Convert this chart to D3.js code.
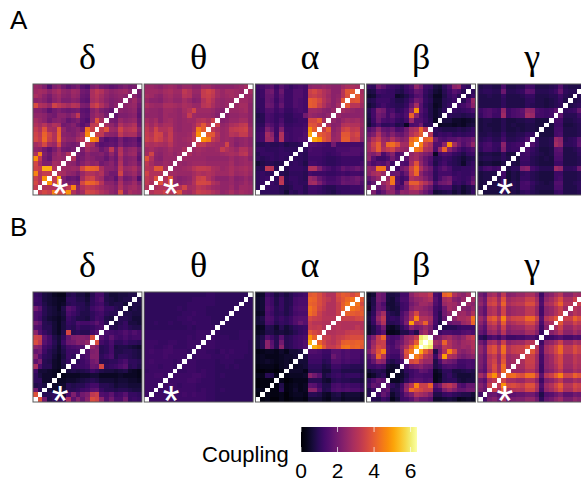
<!DOCTYPE html>
<html lang="en">
<head>
<meta charset="UTF-8">
<title>Coupling</title>
<style>
  html, body { margin: 0; padding: 0; background: #fff; overflow: hidden; }
  text { font-family: "Liberation Sans", Arial, sans-serif; fill: #000; }
  .greek { font-family: "Liberation Serif", "Times New Roman", serif; }
</style>
</head>
<body>
<div id="chart"></div>
<script src="https://d3js.org/d3.v7.min.js"></script>
<script>
var bands = ["δ", "θ", "α", "β", "γ"];
var groups = ["A", "B"];
var legendTicks = [0, 2, 4, 6];
var starred = { A: ["δ", "θ", "γ"], B: ["δ", "θ", "γ"] };

// coupling x 10, upper-left triangle read row by row from the top, diagonal left out
var aDelta = [
  [26,25,22,15,22,24,20,17,19,21,16,14,22,24,20,19,17,18,20,22,20,21],
  [27,28,27,24,27,29,25,24,27,26,20,19,29,32,30,26,24,25,26,27,24],
  [29,27,24,21,25,27,24,23,26,25,19,18,29,31,28,25,23,24,25,24],
  [24,25,23,20,24,26,22,22,24,23,18,17,28,30,27,24,22,23,24],
  [37,30,29,26,35,32,30,28,31,30,22,21,32,35,30,26,22,24],
  [23,23,21,17,20,22,20,19,20,21,17,16,23,26,22,20,18],
  [25,25,24,21,20,24,24,22,25,32,18,17,24,27,25,21],
  [28,26,24,20,23,24,22,18,20,22,17,15,25,38,28],
  [30,28,31,27,30,29,20,21,23,19,16,19,32,33],
  [33,30,38,29,28,40,25,21,22,24,20,44,34],
  [35,32,41,35,30,41,24,23,22,25,28,47],
  [36,33,42,34,30,42,26,24,24,28,31],
  [28,30,36,28,26,36,23,21,20,22],
  [25,24,20,17,21,26,20,19,21],
  [30,46,22,19,24,27,24,30],
  [48,32,21,18,25,26,25],
  [36,28,22,22,28,27],
  [35,33,52,52,30],
  [46,30,33,33],
  [34,30,48],
  [36,30],
  [33]
];
var aTheta = [
  [26,26,25,24,26,27,26,24,26,26,24,24,27,27,25,24,24,24,24,25,26,28],
  [27,27,27,26,28,29,27,27,32,30,26,26,33,35,33,28,26,28,28,27,26],
  [28,27,25,24,27,28,26,26,31,30,25,25,33,34,32,28,26,27,28,27],
  [26,24,24,23,26,27,25,25,28,26,23,24,30,33,30,26,25,26,26],
  [29,27,26,26,29,29,28,27,29,28,26,26,31,32,29,26,25,26],
  [26,25,25,24,27,27,26,25,28,30,35,27,27,27,26,24,23],
  [25,25,25,24,27,26,26,25,27,33,27,26,26,26,25,23],
  [28,26,28,24,27,28,26,25,26,27,27,30,31,29,34],
  [30,27,30,27,29,29,26,25,26,26,28,33,39,32],
  [32,29,35,30,30,32,26,25,26,26,29,45,40],
  [33,31,36,35,29,33,27,26,26,27,32,48],
  [34,32,36,34,30,33,27,26,27,28,32],
  [30,29,30,29,28,31,27,26,26,27],
  [27,28,26,25,26,28,26,26,29],
  [28,35,25,24,26,27,25,27],
  [38,30,24,23,26,26,26],
  [32,28,25,25,27,26],
  [31,30,39,39,28],
  [35,30,30,30],
  [32,30,38],
  [32,29],
  [30]
];
var aAlpha = [
  [12,13,15,17,12,16,13,11,13,14,13,24,25,25,26,25,24,24,27,29,29,28],
  [11,12,19,20,13,19,12,12,15,15,13,34,36,33,30,28,24,24,31,39,40],
  [11,12,18,18,13,17,12,12,15,15,13,33,34,32,30,27,24,25,31,38],
  [11,11,18,17,12,16,12,12,15,14,13,40,39,36,31,28,24,26,39],
  [11,11,19,18,13,18,12,12,15,14,13,40,39,34,30,26,24,28],
  [10,11,15,15,12,14,11,11,13,14,13,27,27,26,24,23,26],
  [8,9,14,13,11,12,10,10,12,12,20,26,25,24,23,25],
  [9,9,14,13,11,14,10,10,11,12,12,36,36,40,28],
  [10,10,17,15,12,16,11,11,12,12,13,39,38,34],
  [11,12,22,18,12,22,12,12,13,13,14,48,40],
  [12,13,28,24,12,30,13,12,13,13,15,51],
  [12,13,27,26,13,30,13,12,13,14,15],
  [9,9,10,9,9,10,8,9,9,10],
  [11,11,10,10,10,11,10,10,10],
  [9,11,11,11,10,11,11,10],
  [10,9,10,11,10,11,10],
  [6,8,9,9,8,9],
  [9,9,32,31,9],
  [10,11,10,10],
  [10,11,12],
  [10,11],
  [10]
];
var aBeta = [
  [11,10,20,17,13,12,11,9,12,15,25,20,12,11,7,6,10,14,24,26,12,10],
  [7,8,13,12,11,11,9,8,11,13,18,17,11,9,6,5,9,12,16,14,9],
  [5,6,10,11,11,11,5,6,8,11,15,16,10,8,4,4,8,11,13,9],
  [8,9,12,12,12,10,8,8,10,14,20,18,11,9,5,5,9,10,12],
  [6,8,11,13,11,10,9,9,11,18,28,16,10,8,4,5,9,11],
  [9,13,22,20,13,14,10,11,14,24,48,16,12,8,5,7,10],
  [8,13,20,18,13,17,13,12,15,41,24,14,11,8,5,7],
  [7,12,19,14,13,14,11,10,13,26,15,15,12,9,4],
  [6,10,14,10,10,11,8,9,4,14,15,20,10,10],
  [15,18,25,18,17,19,14,15,20,28,30,42,31],
  [19,22,30,22,19,23,19,18,22,30,34,40],
  [23,30,34,26,24,30,25,23,25,42,46],
  [27,34,40,28,42,43,38,28,28,45],
  [27,32,40,30,33,35,28,26,25],
  [24,22,26,14,19,23,14,17],
  [25,16,12,12,14,20,15],
  [18,14,16,15,19,12],
  [25,24,44,44,18],
  [24,28,30,26],
  [18,22,26],
  [14,18],
  [22]
];
var aGamma = [
  [8,9,9,8,8,14,8,8,9,9,13,12,8,8,8,9,10,15,9,8,8,8],
  [9,10,10,9,9,19,9,9,10,11,17,16,9,9,9,10,12,18,10,9,9],
  [8,8,9,8,8,11,8,8,8,9,11,11,8,8,8,9,9,12,9,8],
  [8,8,8,8,8,10,8,8,8,8,10,10,8,8,7,8,9,11,8],
  [8,8,8,8,8,10,8,8,8,8,10,9,8,8,7,8,9,10],
  [12,14,15,13,12,25,12,14,15,17,25,24,14,13,12,13,17],
  [11,14,15,12,12,27,12,14,15,16,28,26,13,13,12,13],
  [7,8,8,7,7,9,7,7,8,8,9,9,7,7,7],
  [7,8,7,7,7,9,7,8,7,7,8,8,7,7],
  [7,8,8,7,7,9,7,7,8,7,8,8,7],
  [8,8,9,8,8,11,8,8,9,9,11,11],
  [9,10,11,9,9,13,9,9,10,11,15],
  [11,13,14,11,11,24,11,12,13,14],
  [10,13,13,11,10,22,11,12,12],
  [7,8,8,7,7,10,7,7],
  [8,9,9,8,8,10,8],
  [6,7,7,6,6,8],
  [10,13,14,12,13],
  [7,8,8,8],
  [7,8,8],
  [7,8],
  [7]
];
var bDelta = [
  [11,10,7,6,4,3,3,8,9,7,7,5,9,13,13,8,6,6,7,7,8,8],
  [12,11,7,6,5,4,4,10,10,8,8,6,10,13,15,8,7,6,7,8,8],
  [11,11,8,6,5,4,5,9,10,9,9,7,10,12,13,9,7,8,8,6],
  [20,16,9,7,6,4,8,16,14,10,9,8,12,14,15,11,11,9,8],
  [14,13,9,7,6,5,7,14,12,10,8,8,10,12,13,10,9,9],
  [14,12,8,6,5,4,6,12,10,8,8,7,10,13,12,8,7],
  [20,17,9,8,6,4,7,11,10,14,13,13,14,17,13,9],
  [15,14,9,9,6,4,7,10,9,12,10,10,11,13,14],
  [24,15,11,9,6,4,8,36,9,10,9,9,13,16],
  [35,34,17,13,8,6,10,18,22,23,23,22,37],
  [37,32,16,13,9,6,12,19,20,23,22,25],
  [24,22,13,11,8,5,9,13,14,15,15],
  [18,20,12,9,7,5,8,12,12,13],
  [23,15,10,9,6,4,7,12,10],
  [17,22,9,8,5,4,8,11],
  [29,14,9,9,5,4,7],
  [12,6,6,5,4,3],
  [10,7,5,5,4],
  [10,10,5,5],
  [8,9,7],
  [20,9],
  [38]
];
var bTheta = [
  [10,10,10,10,10,10,10,10,10,10,10,10,10,11,11,10,10,10,10,10,10,10],
  [10,10,10,10,10,10,10,10,10,10,11,11,11,11,11,10,10,10,10,10,10],
  [10,10,10,10,10,10,10,10,10,11,11,11,11,11,11,10,10,10,10,10],
  [10,10,10,10,10,10,10,11,10,11,11,11,11,10,10,10,10,10,10],
  [10,10,10,10,10,10,10,10,11,11,12,11,11,10,10,10,10,10],
  [10,10,10,10,10,10,10,11,11,12,11,11,11,11,10,10,10],
  [10,10,11,10,10,11,10,10,11,11,12,11,11,11,10,10],
  [10,10,10,10,10,10,10,10,10,11,10,11,11,11,11],
  [11,11,11,11,11,11,11,11,11,11,11,12,12,12],
  [11,11,11,11,11,11,11,11,11,12,11,12,12],
  [12,12,12,11,11,12,12,11,11,12,12,12],
  [12,12,11,11,12,13,11,11,11,12,12],
  [12,13,12,12,13,13,12,12,12,11],
  [12,12,12,12,13,12,12,12,12],
  [12,13,12,12,12,12,11,12],
  [12,12,12,11,12,12,11],
  [11,12,12,12,12,12],
  [12,12,13,13,12],
  [12,12,12,12],
  [12,12,12],
  [12,12],
  [12]
];
var bAlpha = [
  [4,5,12,10,7,9,7,9,11,12,13,39,40,37,33,30,30,37,40,39,36,39],
  [5,6,14,12,8,11,8,9,13,14,14,42,41,37,34,32,30,36,39,42,44],
  [5,6,14,12,8,11,8,9,13,14,14,41,40,37,34,30,30,34,40,44],
  [5,6,15,13,9,11,8,10,14,15,15,44,41,36,33,30,30,34,41],
  [4,5,14,12,9,10,8,10,13,14,14,43,40,34,31,30,30,34],
  [6,8,15,14,10,12,10,12,15,16,16,36,34,33,31,31,31],
  [6,7,14,13,9,11,10,12,15,19,16,33,31,31,30,30],
  [3,4,9,8,5,9,6,8,10,11,12,33,32,33,30],
  [4,5,8,8,6,7,6,7,9,11,12,39,36,34],
  [6,8,15,12,9,16,9,10,12,13,14,48,41],
  [6,9,24,16,9,20,9,10,12,13,15,52],
  [6,9,24,17,9,24,9,10,12,13,15],
  [2,3,4,4,3,5,3,6,6,7],
  [3,4,3,3,3,4,5,5,6],
  [3,4,5,4,3,4,5,4],
  [2,3,3,3,2,4,5],
  [1,1,2,2,1,3],
  [3,3,9,8,3],
  [1,2,2,2],
  [1,2,2],
  [3,3],
  [2]
];
var bBeta = [
  [4,6,20,18,7,7,8,13,13,24,28,30,30,33,14,12,41,43,30,26,24,28],
  [5,8,20,18,7,6,9,14,14,22,25,26,28,30,16,12,28,30,24,22,26],
  [4,8,18,14,6,6,8,12,13,20,23,27,27,25,15,12,26,28,27,24],
  [3,9,18,16,7,6,7,12,13,22,25,25,24,22,13,11,20,28,26],
  [6,10,22,28,10,8,7,14,18,28,36,26,26,24,13,9,20,24],
  [7,12,26,32,10,11,10,15,20,30,46,30,30,28,14,9,18],
  [6,11,22,30,9,9,10,14,22,50,30,32,41,26,14,8],
  [5,8,13,20,5,4,6,10,14,24,20,22,26,22,12],
  [5,8,12,16,3,3,4,8,8,12,8,24,28,20],
  [16,22,33,41,15,13,14,19,26,28,33,60,63],
  [18,26,33,34,14,13,17,20,26,31,40,63],
  [18,28,36,34,16,14,18,24,30,40,52],
  [22,30,38,46,16,14,14,22,38,45],
  [16,22,42,31,14,12,12,20,36],
  [13,18,26,24,10,8,10,14],
  [12,12,14,13,6,5,6],
  [6,8,9,8,4,4],
  [3,5,8,10,4],
  [10,14,18,16],
  [12,18,16],
  [8,12],
  [9]
];
var bGamma = [
  [20,17,27,29,23,32,23,24,26,26,29,29,24,12,22,24,28,31,24,24,28,27],
  [23,19,32,34,27,38,27,29,30,30,34,34,28,14,25,28,32,37,29,29,34],
  [25,20,34,36,29,41,29,31,32,32,37,37,30,15,28,30,35,41,31,31],
  [21,17,29,31,25,35,25,27,28,28,32,32,26,13,24,26,30,34,27],
  [21,17,29,31,25,35,25,27,28,28,32,32,26,13,24,26,30,34],
  [27,22,37,40,32,46,32,35,36,36,42,42,34,16,31,34,39],
  [24,19,32,35,28,40,28,30,32,32,36,36,29,14,26,29],
  [20,16,28,30,24,34,24,26,27,27,31,31,25,12,23],
  [18,15,25,27,22,31,22,24,24,24,28,28,23,11],
  [10,8,13,15,12,17,12,12,13,13,15,15,12],
  [20,16,28,30,24,34,24,26,27,27,31,31],
  [25,20,35,38,30,43,30,33,34,34,39],
  [25,20,35,38,30,43,30,33,34,34],
  [22,18,30,33,26,37,26,28,29],
  [22,18,31,35,26,39,26,28],
  [21,17,30,37,28,43,26],
  [19,16,28,36,28,42],
  [28,23,41,48,35],
  [19,16,29,32],
  [23,19,34],
  [21,18],
  [13]
];

var matrices = {
  A: [aDelta, aTheta, aAlpha, aBeta, aGamma],
  B: [bDelta, bTheta, bAlpha, bBeta, bGamma]
};

var width = 581, height = 479;
var n = 23;
var index = d3.range(n);

var svg = d3.select("#chart").append("svg")
  .attr("width", width)
  .attr("height", height)
  .style("display", "block");

var color = d3.scaleSequential(d3.interpolateInferno).domain([0, 6.35]);

var panelX = d3.scaleBand().domain(bands).range([33, 33 + 110.75 * 5]).paddingInner(2.25 / 110.75);
var groupY = { A: [84, 195], B: [292, 402] };
var groupLabelY = { A: 29, B: 236 };

groups.forEach(function(g) {
  svg.append("text")
    .attr("x", 10)
    .attr("y", groupLabelY[g])
    .style("font-size", "26px")
    .text(g);

  var x = d3.scaleBand().domain(index).range([0, panelX.bandwidth()]);
  var y = d3.scaleBand().domain(index).range([0, groupY[g][1] - groupY[g][0]]);

  bands.forEach(function(b, k) {
    var rows = matrices[g][k];
    var cells = [];
    index.forEach(function(i) {
      index.forEach(function(c) {
        // only one triangle is stored, the matrix is mirrored over the diagonal
        var d = n - 1 - i;
        var v = null;
        if (c < d) v = rows[i][c];
        if (c > d) v = rows[n - 1 - c][d];
        cells.push({ i: i, c: c, v: v });
      });
    });

    var panel = svg.append("g")
      .attr("transform", "translate(" + panelX(b) + "," + groupY[g][0] + ")");

    panel.selectAll("rect.cell")
      .data(cells)
      .join("rect")
      .attr("class", "cell")
      .attr("shape-rendering", "crispEdges")
      .attr("x", function(d) { return x(d.c); })
      .attr("y", function(d) { return y(d.i); })
      .attr("width", x.bandwidth())
      .attr("height", y.bandwidth())
      .attr("fill", function(d) { return d.v === null ? "#fff" : color(d.v / 10); });

    panel.append("rect")
      .attr("width", panelX.bandwidth())
      .attr("height", groupY[g][1] - groupY[g][0])
      .attr("fill", "none")
      .attr("stroke", "#5a5a5a")
      .attr("stroke-width", 1);

    svg.append("text")
      .attr("class", "greek")
      .attr("x", panelX(b) + panelX.bandwidth() / 2)
      .attr("y", groupY[g][0] - 15.5)
      .attr("text-anchor", "middle")
      .style("font-size", "36px")
      .text(b);

    if (starred[g].indexOf(b) >= 0) {
      panel.append("text")
        .attr("x", 27)
        .attr("y", y.range()[1] + 13)
        .attr("text-anchor", "middle")
        .style("font-size", "43px")
        .style("fill", "#fff")
        .text("*");
    }
  });
});

// colour bar
var legendX = d3.scaleLinear().domain([0, 6.35]).range([301, 417]);
var defs = svg.append("defs");
var grad = defs.append("linearGradient").attr("id", "bar");
d3.range(0, 1.001, 0.05).forEach(function(t) {
  grad.append("stop")
    .attr("offset", t)
    .attr("stop-color", color(t * 6.35));
});
svg.append("rect")
  .attr("x", legendX(0))
  .attr("y", 427)
  .attr("width", legendX(6.35) - legendX(0))
  .attr("height", 25)
  .attr("fill", "url(#bar)");

legendTicks.forEach(function(t) {
  [[427, 432], [447, 452]].forEach(function(s) {
    svg.append("line")
      .attr("x1", legendX(t)).attr("x2", legendX(t))
      .attr("y1", s[0]).attr("y2", s[1])
      .attr("stroke", "#fff")
      .attr("stroke-width", 0.7);
  });
  svg.append("text")
    .attr("x", legendX(t))
    .attr("y", 477.5)
    .attr("text-anchor", "middle")
    .style("font-size", "21px")
    .text(t);
});

svg.append("text")
  .attr("x", 202)
  .attr("y", 462)
  .style("font-size", "22px")
  .text("Coupling");
</script>
</body>
</html>
